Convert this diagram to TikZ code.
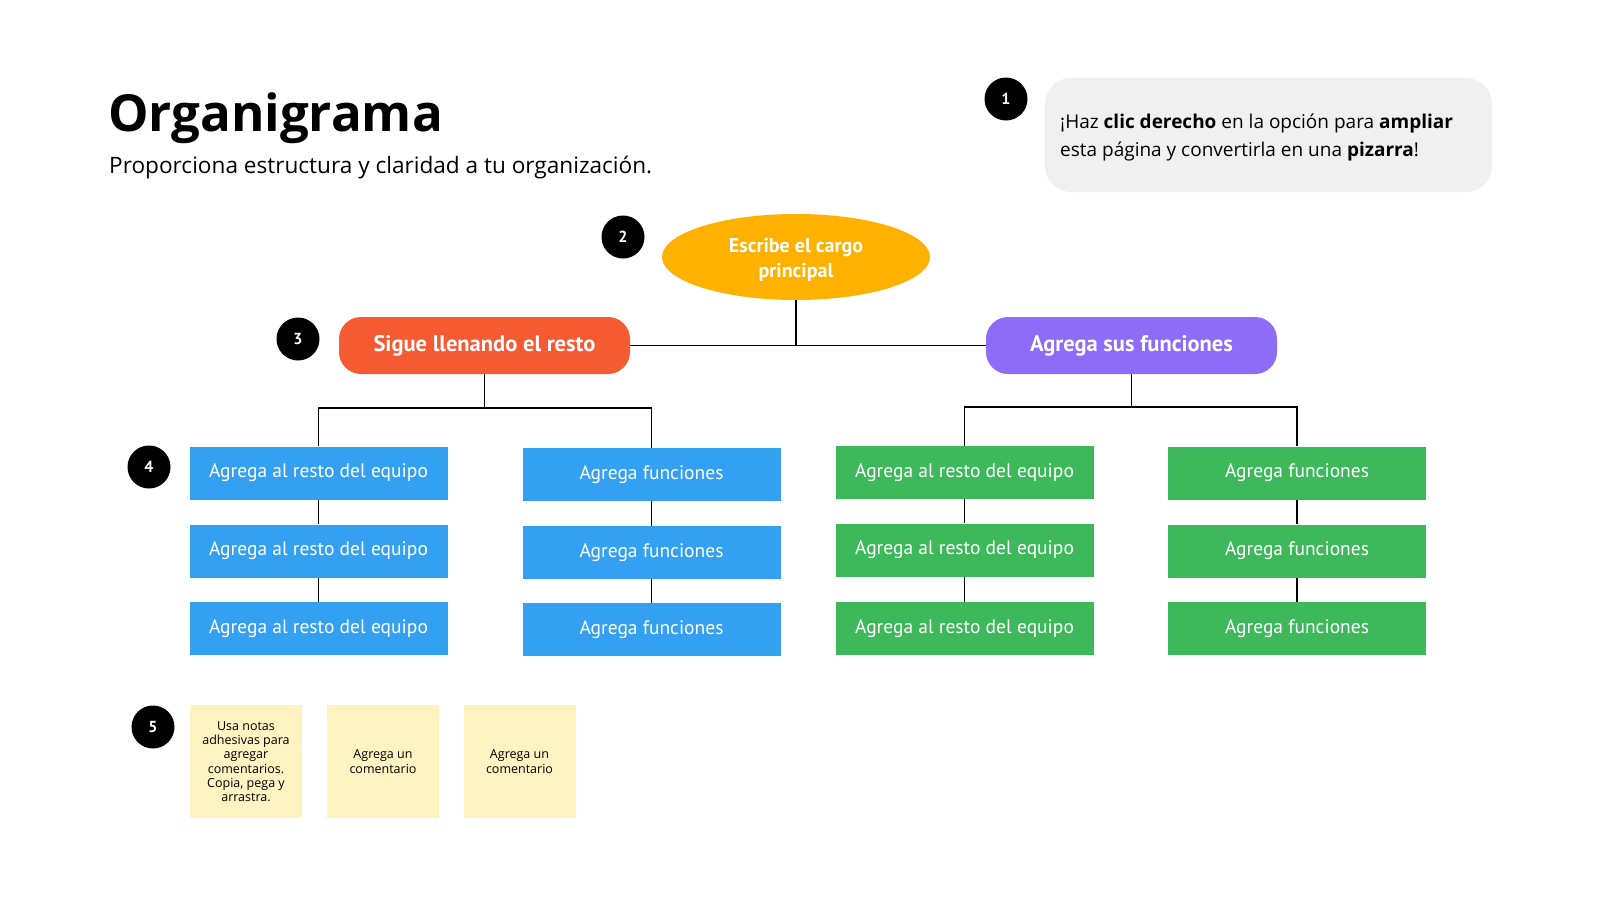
\documentclass[tikz,border=0pt]{standalone}
\usepackage{fontspec}
\setmainfont{Open Sans}
\newfontfamily\cond{PT Sans}
\usetikzlibrary{shapes.geometric}
\definecolor{cOrange}{HTML}{FFB100}
\definecolor{cRed}{HTML}{F45B33}
\definecolor{cPurple}{HTML}{8D6DF8}
\definecolor{cBlue}{HTML}{34A0F1}
\definecolor{cGreen}{HTML}{3DB95B}
\definecolor{cNote}{HTML}{FFF3C2}
\definecolor{cGray}{HTML}{F0F0F0}
\tikzset{
  numdot/.style={circle,fill=black,minimum size=43pt,inner sep=0pt,text=white,font=\cond\bfseries\fontsize{16}{16}\selectfont},
  pill/.style={rounded corners=22pt,minimum width=291pt,minimum height=57pt,inner sep=0pt,text=white,font=\cond\bfseries\fontsize{22.5}{24}\selectfont},
  card/.style={minimum width=258pt,minimum height=53pt,inner sep=0pt,text=white,font=\cond\fontsize{19.5}{22}\selectfont},
  bluecard/.style={card,fill=cBlue},
  greencard/.style={card,fill=cGreen},
  note/.style={fill=cNote,minimum width=112pt,minimum height=113pt,inner sep=0pt,align=center,font=\fontsize{12.5}{14.3}\selectfont},
  link/.style={draw=black,line width=1.8pt},
}
\begin{document}
\begin{tikzpicture}[x=1pt,y=-1pt]
\useasboundingbox[fill=white] (0,0) rectangle (1600,900);
% title
\node[anchor=base west,inner sep=0pt,font=\bfseries\fontsize{51}{51}\selectfont] (title) at (108,131) {Organigrama};
\node[anchor=base west,inner sep=0pt,font=\fontsize{22.6}{22.6}\selectfont] (sub) at (109,173) {Proporciona estructura y claridad a tu organización.};
% callout
\node[fill=cGray,rounded corners=26pt,minimum width=447pt,minimum height=114pt,inner sep=0pt] (callout) at (1268.5,135) {};
\node[anchor=base west,inner sep=0pt,align=left,font=\fontsize{19}{27.5}\selectfont] (ctext) at (1060,156) {¡Haz \textbf{clic derecho} en la opción para \textbf{ampliar}\\esta página y convertirla en una \textbf{pizarra}!};
\node[numdot] (n1) at (1006,99) {1};
% top
\node[ellipse,fill=cOrange,minimum width=268pt,minimum height=86pt,inner sep=0pt,align=center,text=white,font=\cond\bfseries\fontsize{20}{24.5}\selectfont] (top) at (796,257) {};
\node[align=center,text=white,inner sep=0pt,font=\cond\bfseries\fontsize{20}{24.5}\selectfont] (toptext) at (796,260) {Escribe el cargo\\principal};
\node[numdot] (n2) at (623,237) {2};
\node[pill,fill=cRed] (red) at (484.5,345.5) {Sigue llenando el resto};
\node[pill,fill=cPurple] (pur) at (1131.5,345.5) {Agrega sus funciones};
\node[numdot] (n3) at (298,339) {3};
% cards
\node[bluecard] (a1) at (318.5,473) {Agrega al resto del equipo};
\node[bluecard] (a2) at (318.5,551) {Agrega al resto del equipo};
\node[bluecard] (a3) at (318.5,628.5) {Agrega al resto del equipo};
\node[bluecard] (b1) at (651.5,474.5) {Agrega funciones};
\node[bluecard] (b2) at (651.5,552.5) {Agrega funciones};
\node[bluecard] (b3) at (651.5,629.5) {Agrega funciones};
\node[greencard] (c1) at (964.5,472.5) {Agrega al resto del equipo};
\node[greencard] (c2) at (964.5,550) {Agrega al resto del equipo};
\node[greencard] (c3) at (964.5,628.5) {Agrega al resto del equipo};
\node[greencard] (d1) at (1297,473) {Agrega funciones};
\node[greencard] (d2) at (1297,551) {Agrega funciones};
\node[greencard] (d3) at (1297,628.5) {Agrega funciones};
\node[numdot] (n4) at (149,467) {4};
% connectors
\draw[link] (top.south) -- (top.south |- red.east);
\draw[link] (red.east) -- (pur.west);
\coordinate (rj) at (484.5,408);
\coordinate (pj) at (1131.5,407);
\draw[link] (red.south) -- (rj);
\draw[link] (a1.north) |- (rj) -| (b1.north);
\draw[link] (pur.south) -- (pj);
\draw[link] (c1.north) |- (pj) -| (d1.north);
\draw[link] (a1) -- (a2) (a2) -- (a3);
\draw[link] (b1) -- (b2) (b2) -- (b3);
\draw[link] (c1) -- (c2) (c2) -- (c3);
\draw[link] (d1) -- (d2) (d2) -- (d3);
% notes
\node[numdot] (n5) at (153,727) {5};
\node[note] (s1) at (246,761.5) {Usa notas\\adhesivas para\\agregar\\comentarios.\\Copia, pega y\\arrastra.};
\node[note] (s2) at (383,761.5) {Agrega un\\comentario};
\node[note] (s3) at (519.5,761.5) {Agrega un\\comentario};
\end{tikzpicture}
\end{document}
